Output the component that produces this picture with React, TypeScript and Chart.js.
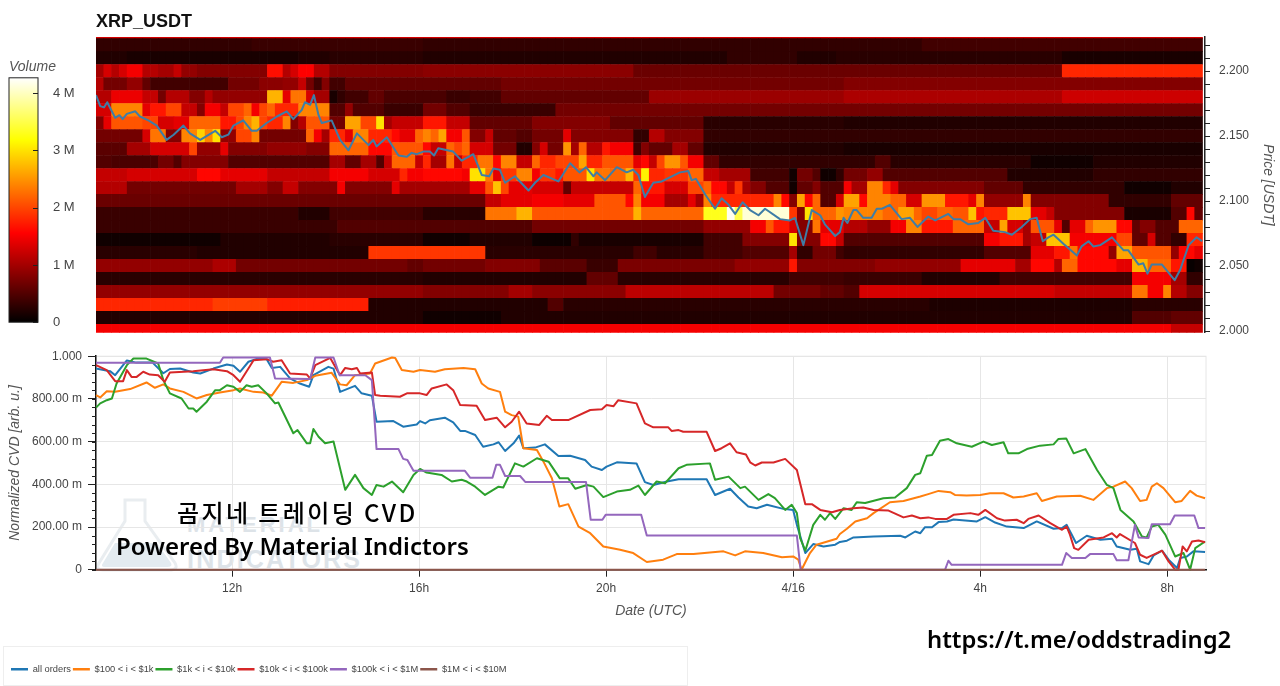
import { useEffect, useRef } from "react";
import { Chart, registerables } from "chart.js";

Chart.register(...registerables);
Chart.defaults.font.family = '"Liberation Sans", Arial, sans-serif';

// heatmap rows, [first 10 minute bin, volume in 100k], each run lasts until the next one
const row223 = [[0, 13]];
const row222 = [[0, 3], [20, 3.5], [42, 3], [106, 4]];
const row221 = [[0, 2], [4, 1.5], [26, 2], [30, 2.5], [42, 2], [81, 3], [90, 2], [95, 2.5], [124, 1.5]];
const row220 = [[0, 10], [1, 13], [2, 11], [3, 13], [4, 15], [6, 11], [8, 10], [10, 12], [11, 9], [13, 8], [22, 16.5], [24, 11], [25, 13], [26, 15.5], [28, 11], [30, 8], [42, 8.5], [69, 6.5], [124, 18]];
const row219 = [[0, 11], [1, 7], [4, 9], [6, 6], [7, 4], [17, 7], [21, 8.5], [24, 9], [26, 12], [27, 7], [28, 4], [29, 8], [30, 4], [32, 6], [52, 7], [96, 8]];
const row218 = [[0, 11], [2, 14.5], [6, 12], [8, 7], [9, 11], [12, 8], [14, 11], [15, 9], [22, 27], [24, 14], [25, 23], [27, 13], [28, 10], [30, 1.5], [31, 3], [32, 4], [35, 6], [37, 4.5], [45, 3.5], [48, 4], [52, 6], [71, 9.5], [96, 10.5], [124, 12.5]];
const row217 = [[0, 13], [2, 24], [6, 14], [7, 17], [9, 20], [11, 12], [13, 8], [14, 15], [16, 12], [17, 20], [19, 22], [20, 15], [21, 20], [22, 22], [23, 18], [26, 24], [30, 5], [32, 9], [33, 5], [37, 3.5], [42, 7], [45, 5], [48, 3.5], [59, 7]];
const row216 = [[0, 8], [1, 14], [2, 21], [6, 20], [8, 13], [10, 14], [12, 22], [16, 17], [18, 20], [19, 24], [20, 27], [21, 20], [22, 18], [24, 24], [25, 8], [26, 11], [27, 21], [30, 7], [32, 26], [34, 20], [36, 30], [37, 10], [38, 12], [42, 17], [45, 12], [48, 6], [56, 8], [66, 6], [78, 2.5], [96, 2]];
const row215 = [[0, 7], [6, 13], [7, 23], [9, 8], [11, 24], [13, 29], [14, 24], [15, 30], [16, 9], [18, 20], [20, 24], [21, 7], [27, 22], [28, 15], [29, 10], [30, 18], [32, 14], [33, 24], [35, 18], [38, 16], [39, 14], [41, 22], [42, 24], [43, 22], [44, 26], [45, 15], [47, 21], [48, 8], [50, 12], [51, 6], [54, 5], [56, 7], [60, 14], [61, 8], [69, 3], [71, 11], [73, 8], [78, 3]];
const row214 = [[0, 5.5], [4, 10], [7, 13], [12, 20], [13, 9], [16, 14], [17, 8], [22, 9], [27, 8], [30, 22], [35, 16], [38, 21], [42, 16], [43, 12], [45, 22], [46, 20], [47, 22], [48, 13], [51, 7], [54, 2], [56, 8], [57, 13], [58, 7], [60, 25], [61, 10], [62, 22], [63, 11], [65, 17], [66, 15], [69, 4], [70, 8], [71, 6], [74, 10], [76, 6], [78, 2], [96, 1.5]];
const row213 = [[0, 5], [2, 4.5], [8, 7], [10, 5], [11, 8], [17, 5], [30, 10], [32, 6], [34, 10], [36, 5], [37, 12], [38, 22], [41, 12], [42, 18], [43, 10], [45, 23], [46, 12], [47, 18], [49, 23], [51, 16], [52, 24], [54, 12], [56, 22], [57, 18], [59, 20], [62, 26], [63, 18], [65, 21], [69, 14], [70, 16], [71, 12], [72, 20], [73, 25], [75, 21], [76, 15], [78, 6], [80, 3], [100, 5], [102, 2.5], [120, 1], [128, 2]];
const row212 = [[0, 12], [4, 13], [13, 16], [16, 14], [22, 12], [30, 15], [35, 13], [39, 18], [40, 15], [42, 16], [47, 15], [48, 30], [50, 23], [51, 14], [52, 19], [54, 24], [56, 15], [57, 19], [59, 17], [60, 21], [63, 30], [64, 23], [66, 22], [68, 27], [69, 19], [70, 31], [71, 18], [73, 19], [76, 22], [78, 12], [80, 10], [84, 4], [89, 1], [90, 7], [92, 5], [93, 1], [95, 3], [96, 7], [99, 9], [101, 5], [117, 2], [128, 3]];
const row211 = [[0, 11], [4, 7], [18, 10], [22, 8], [24, 12], [26, 8], [31, 15], [32, 8], [38, 14], [39, 10], [48, 14], [50, 21], [51, 28], [52, 20], [53, 14], [56, 13], [60, 6], [61, 12], [69, 22], [70, 17], [73, 13], [76, 20], [78, 22], [79, 16], [81, 12], [82, 19], [83, 10], [84, 8], [86, 5], [89, 1], [90, 6], [92, 8], [93, 5], [96, 15], [97, 10], [99, 24], [101, 18], [102, 14], [103, 8], [114, 6], [119, 3], [132, 1], [138, 2]];
const row210 = [[0, 6.5], [50, 12], [52, 14], [56, 15], [60, 14], [64, 21], [68, 16], [69, 24], [70, 15], [73, 10], [76, 14], [77, 10], [78, 24], [79, 18], [87, 24], [88, 16], [89, 8], [90, 26], [91, 16], [92, 22], [93, 5], [95, 13], [96, 26], [98, 16], [99, 24], [102, 22], [104, 13], [106, 25], [109, 17], [112, 14], [113, 24], [114, 9], [119, 24], [120, 8], [130, 3], [138, 6]];
const row209 = [[0, 3.5], [26, 2], [30, 4], [42, 2.5], [50, 23], [54, 27], [56, 21], [69, 27], [70, 22], [78, 33], [81, 42], [82, 35], [83, 41], [89, 19], [90, 8], [91, 30], [92, 22], [95, 25], [96, 24], [101, 22], [103, 26], [105, 22], [106, 20], [108, 22], [110, 21], [112, 28], [113, 17], [114, 18], [117, 28], [120, 14], [122, 12], [123, 8], [132, 1.5], [138, 5], [140, 16], [141, 6]];
const row208 = [[0, 3.5], [31, 5], [56, 7], [78, 9], [84, 15], [86, 21], [87, 17], [89, 13], [90, 8], [92, 23], [93, 14], [96, 11], [99, 9], [102, 15], [104, 24], [106, 17], [110, 22], [114, 12], [116, 26], [117, 13], [119, 10], [120, 21], [123, 14], [124, 5], [125, 14], [127, 22], [128, 25], [131, 16], [133, 6], [134, 8], [136, 5], [139, 22]];
const row207 = [[0, 1], [16, 2], [30, 2.5], [42, 1], [48, 2], [56, 0.8], [61, 3], [62, 1.5], [78, 4], [83, 8], [89, 30], [90, 8], [93, 16], [95, 12], [96, 5], [114, 15], [116, 17], [119, 10], [120, 12], [122, 28], [125, 15], [131, 20], [133, 6], [135, 13], [136, 5], [138, 3], [140, 18]];
const row206 = [[0, 2.5], [13, 2], [35, 19], [50, 2.5], [69, 4], [72, 2.5], [78, 4], [83, 5], [89, 10], [90, 3], [92, 7], [95, 4], [96, 3], [114, 5], [120, 14], [123, 17], [125, 23], [126, 16], [130, 9], [131, 26], [133, 21], [138, 9], [139, 16], [141, 14]];
const row205 = [[0, 9], [15, 10.5], [18, 7], [40, 6], [42, 7], [50, 8], [57, 5.5], [63, 3.5], [67, 7.5], [82, 9], [89, 17], [90, 8], [100, 9], [111, 14], [118, 10], [120, 16], [123, 11], [124, 22], [126, 16], [131, 14], [133, 27], [135, 22], [138, 17], [140, 0.5], [141, 1]];
const row204 = [[0, 2.5], [42, 2], [63, 6], [67, 2.5], [89, 4], [96, 3.5], [106, 2], [116, 4], [133, 15], [138, 10], [140, 3]];
const row203 = [[0, 9], [42, 8], [53, 10], [56, 8.5], [68, 11.5], [87, 7], [93, 6], [96, 5], [98, 13], [123, 12], [133, 23], [135, 15], [137, 24], [138, 11], [140, 8]];
const row202 = [[0, 18], [15, 19.5], [22, 17.5], [35, 2], [58, 5], [60, 2.5], [107, 1.8], [133, 2.5]];
const row201 = [[0, 2], [42, 1], [52, 2], [133, 5], [138, 6]];
const row200 = [[0, 15], [138, 12]];

const heatRows = [row200, row201, row202, row203, row204, row205, row206, row207, row208, row209, row210, row211, row212, row213, row214, row215, row216, row217, row218, row219, row220, row221, row222, row223];
const priceLevels = [2.0, 2.01, 2.02, 2.03, 2.04, 2.05, 2.06, 2.07, 2.08, 2.09, 2.1, 2.11, 2.12, 2.13, 2.14, 2.15, 2.16, 2.17, 2.18, 2.19, 2.2, 2.21, 2.22, 2.23];
const binCount = 142;
const firstHour = 9.09; // hours from 4/15 00:00 UTC

// price line, [hour, price]
const price = [
  [9.09, 2.1815], [9.18, 2.173], [9.26, 2.172], [9.33, 2.176], [9.5, 2.164], [9.59, 2.166], [9.66, 2.163], [9.75, 2.167], [9.93, 2.169], [10.03, 2.165], [10.21, 2.162], [10.39, 2.158], [10.6, 2.147], [10.75, 2.151], [10.96, 2.158], [11.1, 2.152], [11.32, 2.147], [11.64, 2.154], [11.78, 2.149], [11.92, 2.151], [12.03, 2.158], [12.24, 2.162], [12.42, 2.154], [12.53, 2.154], [12.74, 2.16], [12.96, 2.165], [13.17, 2.169], [13.31, 2.163], [13.49, 2.17], [13.56, 2.176], [13.67, 2.174], [13.75, 2.1815], [13.85, 2.166], [13.92, 2.16], [14.13, 2.162], [14.31, 2.147], [14.49, 2.139], [14.67, 2.152], [14.92, 2.143], [15.02, 2.147], [15.09, 2.142], [15.31, 2.149], [15.56, 2.135], [15.74, 2.134], [15.84, 2.137], [15.95, 2.136], [16.09, 2.138],
  [16.23, 2.138], [16.32, 2.135], [16.41, 2.1405], [16.73, 2.138], [16.91, 2.131], [17.16, 2.136], [17.34, 2.12], [17.5, 2.119], [17.59, 2.125], [17.73, 2.124], [17.84, 2.114], [18.05, 2.119], [18.34, 2.108], [18.48, 2.114], [18.66, 2.12], [18.98, 2.115], [19.23, 2.129], [19.43, 2.122], [19.57, 2.126], [19.73, 2.119], [19.8, 2.122], [19.98, 2.116], [20.23, 2.126], [20.44, 2.122], [20.58, 2.124], [20.69, 2.12], [20.83, 2.103], [21.01, 2.114], [21.19, 2.115], [21.58, 2.122], [21.76, 2.123], [21.83, 2.116], [21.92, 2.117], [22.12, 2.105], [22.33, 2.094], [22.47, 2.102], [22.62, 2.097], [22.76, 2.09], [22.92, 2.099], [23.08, 2.093], [23.26, 2.089], [23.4, 2.094], [23.72, 2.086], [23.93, 2.085], [24.04, 2.087], [24.22, 2.066], [24.4, 2.093], [24.58, 2.089], [24.68, 2.082], [24.9, 2.073],
  [25.0, 2.076], [25.08, 2.087], [25.16, 2.083], [25.29, 2.093], [25.36, 2.093], [25.5, 2.087], [25.68, 2.087], [25.79, 2.094], [25.9, 2.094], [26.07, 2.097], [26.32, 2.086], [26.5, 2.087], [26.66, 2.08], [26.89, 2.088], [27.04, 2.085], [27.32, 2.09], [27.43, 2.086], [27.57, 2.086], [27.75, 2.082], [27.96, 2.083], [28.11, 2.087], [28.28, 2.077], [28.53, 2.076], [28.68, 2.074], [28.89, 2.08], [29.07, 2.086], [29.21, 2.087], [29.34, 2.069], [29.46, 2.072], [29.57, 2.074], [29.78, 2.067], [30.07, 2.058], [30.17, 2.065], [30.32, 2.069], [30.42, 2.065], [30.57, 2.066], [30.82, 2.072], [31.07, 2.062], [31.17, 2.062], [31.39, 2.051], [31.49, 2.052], [31.58, 2.044], [31.67, 2.051], [31.89, 2.051], [32.16, 2.039], [32.28, 2.047], [32.46, 2.066], [32.63, 2.072], [32.75, 2.069],
];

// normalized CVD, [hour, value]
const allOrders = [
  [9.09, 0.942], [9.39, 0.93], [9.5, 0.911], [9.75, 0.98], [9.95, 0.97], [10.3, 0.97], [10.53, 0.92], [10.67, 0.94], [10.89, 0.942], [11.17, 0.924], [11.32, 0.919], [11.6, 0.942], [11.89, 0.961], [12.03, 0.955], [12.17, 0.927], [12.35, 0.974], [12.56, 0.989], [12.74, 0.986], [12.85, 0.945], [13.03, 0.95], [13.24, 0.896], [13.45, 0.872], [13.65, 0.857], [13.74, 0.911], [14.06, 0.95], [14.17, 0.942], [14.31, 0.833], [14.63, 0.861], [14.77, 0.826], [14.99, 0.815], [15.09, 0.693], [15.45, 0.696], [15.66, 0.67], [15.95, 0.68], [16.02, 0.696], [16.13, 0.685], [16.23, 0.7], [16.55, 0.712], [16.73, 0.69], [16.88, 0.65], [16.98, 0.65], [17.2, 0.631], [17.37, 0.576], [17.59, 0.587], [17.7, 0.597], [17.84, 0.556], [18.02, 0.592], [18.14, 0.628], [18.23, 0.569], [18.48, 0.572], [18.69, 0.587], [18.98, 0.533], [19.23, 0.534], [19.55, 0.514], [19.69, 0.483], [19.91, 0.467], [20.01, 0.483], [20.23, 0.503], [20.65, 0.498], [20.83, 0.41], [21.01, 0.397], [21.3, 0.413], [21.55, 0.424], [22.15, 0.424], [22.33, 0.35], [22.65, 0.379], [22.83, 0.338], [23.04, 0.296], [23.22, 0.288], [23.44, 0.304], [23.79, 0.285], [24.0, 0.28], [24.08, 0.21], [24.26, 0.078], [24.43, 0.12], [24.65, 0.109], [24.9, 0.117], [25.0, 0.13], [25.15, 0.136], [25.29, 0.151], [25.72, 0.156], [26.29, 0.159], [26.4, 0.151], [26.61, 0.179], [26.72, 0.171], [26.82, 0.199], [26.97, 0.199], [27.11, 0.223], [27.29, 0.226], [27.43, 0.235], [27.93, 0.226], [28.11, 0.246], [28.32, 0.221], [28.57, 0.202], [28.93, 0.195], [29.21, 0.226], [29.57, 0.192], [29.75, 0.195], [29.85, 0.21], [29.96, 0.164], [30.05, 0.125], [30.28, 0.159], [30.57, 0.14], [30.82, 0.145], [30.92, 0.109], [31.21, 0.093], [31.35, 0.098], [31.42, 0.039], [31.6, 0.026], [31.71, 0.067], [31.89, 0.089], [32.03, 0.047], [32.21, 0.008], [32.28, 0.055], [32.42, 0.062], [32.56, 0.086], [32.81, 0.083],
];
const orders100to1k = [
  [9.09, 0.818], [9.18, 0.807], [9.32, 0.836], [9.5, 0.833], [9.82, 0.846], [10.17, 0.877], [10.35, 0.852], [10.53, 0.868], [10.67, 0.849], [10.96, 0.833], [11.24, 0.802], [11.46, 0.818], [11.74, 0.83], [12.03, 0.841], [12.17, 0.849], [12.46, 0.833], [12.67, 0.83], [12.85, 0.815], [13.06, 0.88], [13.31, 0.875], [13.6, 0.888], [13.78, 0.908], [14.13, 0.922], [14.31, 0.868], [14.45, 0.864], [14.63, 0.911], [14.95, 0.919], [15.06, 0.966], [15.42, 0.994], [15.49, 0.992], [15.63, 0.935], [15.88, 0.927], [16.02, 0.935], [16.34, 0.927], [16.55, 0.939], [16.95, 0.945], [17.2, 0.939], [17.34, 0.872], [17.48, 0.849], [17.73, 0.833], [17.84, 0.74], [17.98, 0.724], [18.12, 0.717], [18.23, 0.569], [18.52, 0.561], [18.66, 0.506], [18.84, 0.428], [19.0, 0.296], [19.19, 0.307], [19.41, 0.202], [19.66, 0.171], [19.94, 0.109], [20.3, 0.093], [20.58, 0.078], [20.87, 0.036], [21.22, 0.047], [21.51, 0.073], [21.87, 0.073], [22.51, 0.086], [22.76, 0.067], [22.97, 0.086], [23.36, 0.078], [23.76, 0.058], [24.0, 0.062], [24.11, 0.047], [24.18, 0], [24.36, 0.078], [24.5, 0.117], [24.93, 0.145], [25.0, 0.167], [25.15, 0.192], [25.33, 0.226], [25.58, 0.241], [25.72, 0.265], [26.07, 0.316], [26.36, 0.322], [26.72, 0.343], [26.89, 0.354], [27.11, 0.369], [27.36, 0.363], [27.46, 0.35], [27.71, 0.347], [28.0, 0.35], [28.21, 0.358], [28.5, 0.358], [28.71, 0.338], [28.93, 0.343], [29.21, 0.358], [29.32, 0.322], [29.64, 0.343], [30.14, 0.346], [30.42, 0.327], [30.71, 0.382], [30.85, 0.389], [31.1, 0.413], [31.24, 0.382], [31.42, 0.322], [31.56, 0.327], [31.67, 0.389], [31.78, 0.405], [31.92, 0.382], [32.17, 0.316], [32.31, 0.322], [32.49, 0.369], [32.63, 0.347], [32.81, 0.335],
];
const orders1kto10k = [
  [9.09, 0.759], [9.18, 0.779], [9.32, 0.794], [9.43, 0.802], [9.53, 0.872], [9.75, 0.958], [9.89, 0.989], [10.17, 0.989], [10.42, 0.966], [10.53, 0.888], [10.67, 0.826], [10.92, 0.802], [11.07, 0.755], [11.17, 0.755], [11.24, 0.74], [11.46, 0.787], [11.64, 0.841], [11.74, 0.841], [11.89, 0.864], [12.03, 0.857], [12.17, 0.833], [12.31, 0.864], [12.42, 0.857], [12.56, 0.864], [12.74, 0.826], [12.92, 0.779], [12.99, 0.783], [13.31, 0.639], [13.4, 0.654], [13.6, 0.592], [13.67, 0.592], [13.74, 0.659], [13.85, 0.623], [13.99, 0.592], [14.17, 0.6], [14.42, 0.374], [14.63, 0.444], [14.81, 0.382], [14.99, 0.35], [15.09, 0.397], [15.24, 0.389], [15.42, 0.413], [15.66, 0.363], [15.88, 0.444], [16.02, 0.472], [16.16, 0.455], [16.48, 0.444], [16.7, 0.413], [16.91, 0.421], [17.02, 0.413], [17.2, 0.389], [17.41, 0.35], [17.7, 0.389], [17.8, 0.385], [18.05, 0.498], [18.23, 0.483], [18.52, 0.522], [18.77, 0.506], [19.01, 0.428], [19.19, 0.428], [19.34, 0.379], [19.59, 0.397], [19.73, 0.389], [19.94, 0.34], [20.23, 0.366], [20.51, 0.374], [20.69, 0.394], [20.83, 0.35], [21.08, 0.413], [21.26, 0.405], [21.55, 0.475], [21.72, 0.491], [22.22, 0.498], [22.33, 0.421], [22.62, 0.436], [22.87, 0.382], [22.97, 0.389], [23.26, 0.327], [23.47, 0.354], [23.61, 0.335], [23.83, 0.28], [23.97, 0.304], [24.08, 0.265], [24.15, 0.148], [24.26, 0.089], [24.43, 0.21], [24.58, 0.257], [24.68, 0.234], [24.79, 0.265], [24.9, 0.238], [25.08, 0.288], [25.25, 0.28], [25.36, 0.316], [25.54, 0.312], [25.93, 0.335], [26.18, 0.338], [26.43, 0.382], [26.61, 0.444], [26.72, 0.452], [26.86, 0.534], [26.97, 0.537], [27.14, 0.604], [27.32, 0.612], [27.5, 0.592], [27.82, 0.576], [28.07, 0.6], [28.25, 0.584], [28.5, 0.597], [28.6, 0.545], [28.82, 0.545], [29.0, 0.565], [29.28, 0.581], [29.57, 0.587], [29.67, 0.612], [29.84, 0.615], [30.0, 0.545], [30.25, 0.565], [30.5, 0.467], [30.71, 0.397], [30.85, 0.382], [31.0, 0.28], [31.28, 0.226], [31.46, 0.156], [31.56, 0.151], [31.67, 0.202], [31.81, 0.21], [31.96, 0.164], [32.17, 0.062], [32.35, 0.078], [32.49, 0], [32.6, 0.101], [32.81, 0.132],
];
const orders10kto100k = [
  [9.09, 0.958], [9.32, 0.935], [9.5, 0.883], [9.67, 0.883], [9.75, 0.935], [9.85, 0.903], [9.96, 0.903], [10.1, 0.927], [10.24, 0.914], [10.42, 0.911], [10.56, 0.88], [10.67, 0.924], [11.17, 0.93], [11.6, 0.939], [11.89, 0.93], [12.03, 0.911], [12.17, 0.88], [12.35, 0.942], [12.46, 0.981], [12.74, 0.986], [12.88, 0.974], [13.06, 0.981], [13.24, 0.919], [13.6, 0.914], [13.67, 0.896], [13.78, 0.958], [14.1, 0.992], [14.31, 0.911], [14.42, 0.945], [14.56, 0.939], [14.67, 0.945], [14.74, 0.919], [14.99, 0.924], [15.06, 0.818], [15.17, 0.815], [15.59, 0.81], [15.74, 0.826], [16.02, 0.826], [16.16, 0.818], [16.27, 0.849], [16.59, 0.868], [16.73, 0.841], [16.88, 0.771], [17.23, 0.768], [17.41, 0.701], [17.66, 0.712], [17.84, 0.667], [17.98, 0.693], [18.14, 0.74], [18.3, 0.685], [18.57, 0.678], [18.73, 0.721], [18.84, 0.701], [19.19, 0.701], [19.66, 0.748], [19.91, 0.752], [20.01, 0.771], [20.16, 0.766], [20.26, 0.794], [20.65, 0.779], [20.83, 0.685], [21.01, 0.667], [21.33, 0.667], [21.4, 0.65], [21.55, 0.654], [21.65, 0.646], [22.15, 0.646], [22.33, 0.556], [22.47, 0.569], [22.65, 0.592], [22.79, 0.55], [22.99, 0.54], [23.08, 0.503], [23.19, 0.488], [23.33, 0.502], [23.58, 0.502], [23.83, 0.519], [24.08, 0.467], [24.26, 0.307], [24.4, 0.307], [24.58, 0.28], [24.83, 0.269], [25.0, 0.28], [25.29, 0.288], [25.5, 0.291], [25.72, 0.28], [26.04, 0.277], [26.36, 0.245], [26.54, 0.254], [26.72, 0.241], [26.89, 0.245], [27.04, 0.238], [27.29, 0.238], [27.43, 0.257], [27.79, 0.265], [27.96, 0.257], [28.11, 0.28], [28.36, 0.241], [28.53, 0.23], [28.78, 0.234], [28.93, 0.218], [29.03, 0.238], [29.25, 0.254], [29.5, 0.218], [29.75, 0.187], [29.85, 0.202], [29.92, 0.164], [30.01, 0.101], [30.1, 0.093], [30.32, 0.14], [30.64, 0.151], [30.82, 0.171], [30.92, 0.151], [30.99, 0.167], [31.31, 0.125], [31.42, 0.07], [31.56, 0.055], [31.78, 0.078], [31.89, 0.089], [32.03, 0.039], [32.17, 0], [32.24, 0], [32.33, 0.109], [32.42, 0.086], [32.53, 0.132], [32.67, 0.137], [32.81, 0.129],
];
const orders100kto1m = [
  [9.09, 0.969], [11.74, 0.969], [11.81, 0.994], [12.81, 0.994], [12.92, 0.896], [13.67, 0.893], [13.78, 0.994], [14.17, 0.994], [14.3, 0.911], [14.85, 0.911], [14.99, 0.888], [15.09, 0.565], [15.56, 0.565], [15.66, 0.519], [15.75, 0.514], [15.88, 0.463], [16.98, 0.463], [17.09, 0.431], [17.57, 0.431], [17.65, 0.491], [17.73, 0.491], [17.84, 0.439], [18.16, 0.439], [18.27, 0.411], [19.57, 0.411], [19.67, 0.234], [19.92, 0.234], [19.99, 0.257], [20.75, 0.257], [20.87, 0.16], [24.08, 0.16], [24.16, 0], [27.25, 0], [27.32, 0.042], [27.39, 0.023], [29.75, 0.023], [29.84, 0.078], [29.96, 0.055], [30.25, 0.055], [30.35, 0.073], [30.85, 0.073], [30.92, 0.044], [31.17, 0.044], [31.31, 0.21], [31.39, 0.151], [31.6, 0.148], [31.67, 0.213], [32.06, 0.213], [32.16, 0.254], [32.58, 0.254], [32.67, 0.195], [32.81, 0.195],
];
const orders1mto10m = [[9.09, 0], [32.81, 0]];

const cvdNames = ["all orders", "$100 < i < $1k", "$1k < i < $10k", "$10k < i < $100k", "$100k < i < $1M", "$1M < i < $10M"];
const cvdSeries = [allOrders, orders100to1k, orders1kto10k, orders10kto100k, orders100kto1m, orders1mto10m];
const cvdColors = ["#1f77b4", "#ff7f0e", "#2ca02c", "#d62728", "#9467bd", "#8c564b"];

const colorStops = [[0, "#000000"], [0.365, "#ff0000"], [0.746, "#ffff00"], [1, "#ffffff"]];
const maxVolume = 42.7;

const labelColor = "#444444";
const titleColor = "#555555";

function hot(v: number) {
  const t = Math.min(v / maxVolume, 1);
  const r = Math.min(t / 0.365, 1) * 255;
  const g = t < 0.365 ? 0 : Math.min((t - 0.365) / 0.381, 1) * 255;
  const b = t < 0.746 ? 0 : ((t - 0.746) / 0.254) * 255;
  return `rgb(${Math.round(r)},${Math.round(g)},${Math.round(b)})`;
}

// run list to one volume per bin
function expand(runs: number[][]) {
  const out: number[] = [];
  let r = 0;
  for (let i = 0; i < binCount; i++) {
    while (r + 1 < runs.length && runs[r + 1][0] <= i) r++;
    out.push(runs[r][1]);
  }
  return out;
}

// chart.js has no minor ticks, so they are drawn from the scale
function ticksPlugin(id: string, step: number, len: number, inside = false) {
  return {
    id: "ticks" + id + step,
    afterDraw(chart: any) {
      const s = chart.scales[id];
      const { ctx } = chart;
      ctx.save();
      ctx.strokeStyle = "#222";
      ctx.lineWidth = 1;
      ctx.beginPath();
      const first = Math.ceil(s.min / step - 1e-6);
      for (let k = first; k * step <= s.max + 1e-9; k++) {
        const p = Math.round(s.getPixelForValue(k * step)) + 0.5;
        if (s.position === "left") {
          ctx.moveTo(s.right, p);
          ctx.lineTo(s.right - len, p);
        } else if (inside) {
          ctx.moveTo(s.left, p);
          ctx.lineTo(s.left - len, p);
        } else {
          ctx.moveTo(s.left, p);
          ctx.lineTo(s.left + len, p);
        }
      }
      ctx.stroke();
      ctx.restore();
    },
  };
}

function App() {
  const heatRef = useRef<HTMLCanvasElement | null>(null);
  const cvdRef = useRef<HTMLCanvasElement | null>(null);
  const barRef = useRef<HTMLCanvasElement | null>(null);

  useEffect(() => {
    const heatSets: any[] = heatRows.map((runs, r) => ({
      type: "bar",
      order: 1,
      grouped: false,
      barPercentage: 1,
      categoryPercentage: 1,
      borderWidth: 0,
      data: expand(runs).map((v, i) => ({
        x: firstHour + (i + 0.5) / 6,
        y: [priceLevels[r] - 0.005, priceLevels[r] + 0.005],
        v,
      })),
      backgroundColor: (c: any) => hot(c.raw ? c.raw.v : 0),
    }));
    heatSets.push({
      type: "line",
      order: 0,
      data: price.map(([x, y]) => ({ x, y })),
      borderColor: "#3f7da6",
      borderWidth: 2,
      borderJoinStyle: "round",
      pointRadius: 0,
      tension: 0,
    });

    const heat = new Chart(heatRef.current!, {
      type: "bar",
      data: { datasets: heatSets },
      options: {
        responsive: false,
        animation: false,
        layout: { padding: { left: 96, top: 37, bottom: 12, right: 0 } },
        plugins: { legend: { display: false }, tooltip: { enabled: false } },
        scales: {
          x: { type: "linear", offset: false, display: false, min: firstHour, max: 32.81 },
          y: {
            type: "linear",
            position: "right",
            min: 1.9985,
            max: 2.2262,
            afterFit: (s: any) => {
              s.width = 75;
            },
            grid: { display: false, tickLength: 8, drawTicks: true, tickColor: "#222" },
            border: { color: "#222", width: 1.5 },
            ticks: {
              stepSize: 0.05,
              includeBounds: false,
              padding: 6,
              color: labelColor,
              font: { size: 12 },
              callback: (v: any) => Number(v).toFixed(3),
            },
            title: {
              display: true,
              text: "Price [USDT]",
              color: titleColor,
              padding: { top: 4, bottom: 0 },
              font: { size: 14, style: "italic" },
            },
          },
        },
      } as any,
      plugins: [ticksPlugin("y", 0.01, 5) as any],
    });

    const cvdSets: any[] = cvdSeries.map((pts, i) => ({
      label: cvdNames[i],
      order: 5 - i,
      data: pts.map(([x, y]) => ({ x, y })),
      borderColor: cvdColors[i],
      backgroundColor: cvdColors[i],
      borderWidth: 2,
      borderJoinStyle: "round",
      pointRadius: 0,
      tension: 0,
      clip: false,
    }));

    const cvd = new Chart(cvdRef.current!, {
      type: "line",
      data: { datasets: cvdSets },
      options: {
        responsive: false,
        animation: false,
        layout: { padding: { left: 9, right: 74, top: 9, bottom: 2 } },
        plugins: {
          tooltip: { enabled: false },
          legend: {
            position: "bottom",
            align: "start",
            labels: {
              boxWidth: 17,
              boxHeight: 2.5,
              padding: 2,
              color: labelColor,
              font: { size: 9.3 },
              sort: (a: any, b: any) => a.datasetIndex - b.datasetIndex,
              generateLabels: (c: any) =>
                (Chart.defaults.plugins.legend.labels as any).generateLabels(c).map((l: any) => ({ ...l, lineWidth: 0 })),
            },
          },
        },
        scales: {
          x: {
            type: "linear",
            min: firstHour,
            max: 32.83,
            afterFit: (s: any) => {
              s.height = 93;
            },
            grid: { color: "#e6e6e6", tickColor: "#222", tickLength: 7 },
            border: { color: "#111", width: 1.5 },
            ticks: {
              stepSize: 4,
              includeBounds: false,
              autoSkip: false,
              maxRotation: 0,
              padding: 5,
              color: labelColor,
              font: { size: 12 },
              callback: (v: any) => (v === 24 ? "4/16" : `${v < 24 ? v : v - 24}h`),
            },
            title: {
              display: true,
              text: "Date (UTC)",
              color: titleColor,
              padding: { top: 0, bottom: 43 },
              font: { size: 14, style: "italic" },
            },
          },
          y: {
            type: "linear",
            min: 0,
            max: 1,
            afterFit: (s: any) => {
              s.width = 87;
            },
            grid: { color: "#e6e6e6", tickColor: "#222", tickLength: 8 },
            border: { color: "#111", width: 1.5 },
            ticks: {
              stepSize: 0.2,
              includeBounds: false,
              padding: 6,
              color: labelColor,
              font: { size: 12 },
              callback: (v: any) => {
                const n = Number(v);
                if (n === 0) return "0";
                if (n === 1) return "1.000";
                return `${(n * 1000).toFixed(2)} m`;
              },
            },
            title: {
              display: true,
              text: "Normalized CVD [arb. u.]",
              color: titleColor,
              padding: { top: -2, bottom: 0 },
              font: { size: 14, style: "italic" },
            },
          },
        },
      } as any,
      plugins: [
        {
          id: "frame",
          beforeDraw(c: any) {
            const a = c.chartArea;
            c.ctx.save();
            c.ctx.strokeStyle = "#e6e6e6";
            c.ctx.strokeRect(a.left, a.top, a.width, a.height);
            c.ctx.restore();
          },
        } as any,
        ticksPlugin("y", 0.04, 4) as any,
      ],
    });

    const bar = new Chart(barRef.current!, {
      type: "bar",
      data: {
        labels: ["Volume"],
        datasets: [
          {
            data: [[0, maxVolume / 10]],
            barPercentage: 1,
            categoryPercentage: 1,
            borderWidth: 0,
            backgroundColor: (c: any) => {
              const a = c.chart.chartArea;
              if (!a) return "#000";
              const g = c.chart.ctx.createLinearGradient(0, a.bottom, 0, a.top);
              colorStops.forEach(([p, col]) => g.addColorStop(p as number, col as string));
              return g;
            },
          },
        ],
      } as any,
      options: {
        responsive: false,
        animation: false,
        layout: { padding: { left: 9, bottom: 13 } },
        plugins: {
          legend: { display: false },
          tooltip: { enabled: false },
          title: {
            display: true,
            text: "Volume",
            align: "start",
            color: titleColor,
            padding: { top: 3, bottom: 2 },
            font: { size: 14, style: "italic", weight: "normal" },
          },
        },
        scales: {
          x: { display: false },
          y: {
            position: "right",
            min: 0,
            max: maxVolume / 10,
            afterFit: (s: any) => {
              s.width = 52;
            },
            grid: { display: false, drawTicks: false },
            border: { display: false },
            ticks: {
              stepSize: 1,
              includeBounds: false,
              padding: 15,
              color: labelColor,
              font: { size: 13 },
              callback: (v: any) => (v === 0 ? "0" : `${v} M`),
            },
          },
        },
      } as any,
      plugins: [
        {
          id: "frame",
          afterDraw(c: any) {
            const a = c.chartArea;
            c.ctx.save();
            c.ctx.strokeStyle = "#222";
            c.ctx.strokeRect(a.left, a.top, a.width, a.height);
            c.ctx.restore();
          },
        } as any,
        ticksPlugin("y", 1, 5, true) as any,
      ],
    });

    return () => {
      heat.destroy();
      cvd.destroy();
      bar.destroy();
    };
  }, []);

  return (
    <div style={{ position: "absolute", left: 0, top: 0, width: 1280, height: 686, background: "#fff", overflow: "hidden", fontFamily: '"Liberation Sans", Arial, sans-serif' }}>
      {/* legend box and watermark sit behind the canvases */}
      <div style={{ position: "absolute", left: 3, top: 646, width: 685, height: 40, border: "1px solid #eeeeee", boxSizing: "border-box" }} />
      <svg width="90" height="75" style={{ position: "absolute", left: 95, top: 497 }}>
        <path d="M30 3 H50 V24 L80 66 Q84 73 74 73 H8 Q0 73 4 66 L30 24 Z" fill="none" stroke="#e9edf0" strokeWidth="3" />
        <path d="M20 46 H62 L76 66 Q78 70 72 70 H10 Q5 70 8 66 Z" fill="#e3ebf0" />
      </svg>
      <div style={{ position: "absolute", left: 187, top: 512, fontSize: 22, fontWeight: 700, letterSpacing: 3, color: "#dde3e8", whiteSpace: "nowrap" }}>MATERIAL</div>
      <div style={{ position: "absolute", left: 187, top: 545, fontSize: 25, fontWeight: 700, letterSpacing: 2.2, color: "#dde3e8", whiteSpace: "nowrap" }}>INDICATORS</div>

      <canvas ref={heatRef} width={1280} height={346} style={{ position: "absolute", left: 0, top: 0 }} />
      <canvas ref={cvdRef} width={1280} height={343} style={{ position: "absolute", left: 0, top: 343 }} />
      <canvas ref={barRef} width={90} height={290} style={{ position: "absolute", left: 0, top: 55 }} />

      <div style={{ position: "absolute", left: 96, top: 11, fontSize: 18, fontWeight: 700, color: "#111" }}>XRP_USDT</div>
      <div style={{ position: "absolute", left: 177, top: 494, fontFamily: '"Noto Sans CJK KR"', fontSize: 24, fontWeight: 500, letterSpacing: 2.4, color: "#000", whiteSpace: "nowrap" }}>곰지네 트레이딩 CVD</div>
      <div style={{ position: "absolute", left: 116, top: 529, fontFamily: '"Noto Sans"', fontSize: 24, fontWeight: 600, color: "#000", whiteSpace: "nowrap" }}>Powered By Material Indictors</div>
      <div style={{ position: "absolute", left: 927, top: 623, fontFamily: '"Noto Sans"', fontSize: 23.8, fontWeight: 600, color: "#000", whiteSpace: "nowrap" }}>https://t.me/oddstrading2</div>
    </div>
  );
}

export default App;
